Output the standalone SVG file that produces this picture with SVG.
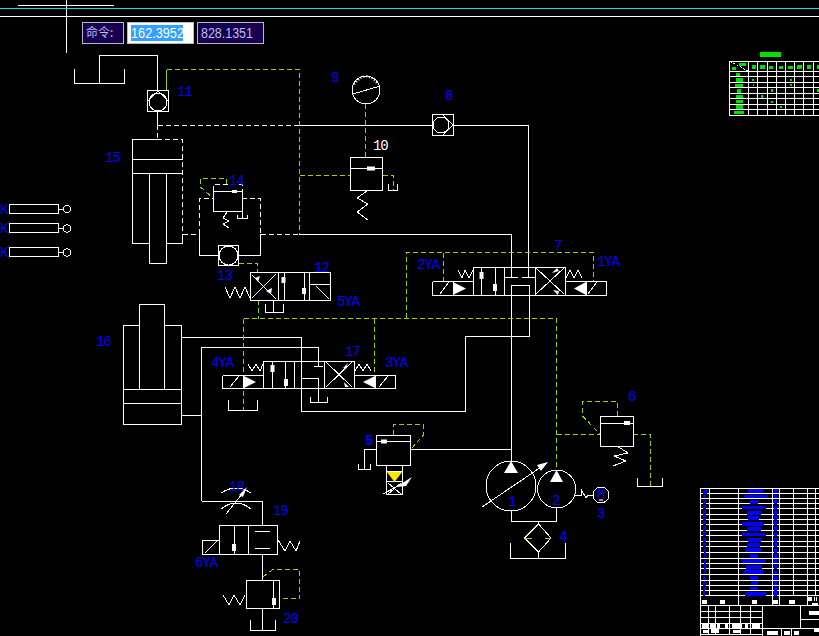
<svg xmlns="http://www.w3.org/2000/svg" width="819" height="636" viewBox="0 0 819 636">
<style>
.w{fill:none;stroke:#fff;stroke-width:1;shape-rendering:crispEdges}
.d{fill:none;stroke:#fff;stroke-width:1;stroke-dasharray:5 3;shape-rendering:crispEdges}
.g{fill:none;stroke:#9fd000;stroke-width:1;stroke-dasharray:5 3;shape-rendering:crispEdges}
.gs{fill:none;stroke:#9fd000;stroke-width:1;shape-rendering:crispEdges}
.f{fill:#fff;stroke:none}
.l{fill:#0000ff;font-family:"Liberation Mono",monospace;font-size:14px;letter-spacing:-1.200px}
.t{fill:#bcbcf0;font-family:"Liberation Sans",sans-serif;font-size:14px}
.tb{stroke:#fff;stroke-width:3;fill:none}
.bl{fill:#0000ff}
.gr{fill:#00e000}
.wf{fill:#fff}
</style>
<rect width="819" height="636" fill="#000"/>
<g id="screen">
<path class="w" d="M18 5.500H114M66.500 0V53M0 16.500H819"/>
<path d="M0 8.500H819" stroke="#00e8e8" stroke-width="1" fill="none"/>
<rect x="82.500" y="22.500" width="41" height="21" fill="#16004f" stroke="#b8b8c8"/>
<text x="86" y="37" class="t" style="font-family:'Noto Sans CJK SC',sans-serif;font-size:12px">命令:</text>
<rect x="127.500" y="22.500" width="66" height="21" fill="#fff" stroke="#b8b8c8"/>
<rect x="131" y="25" width="52" height="16" fill="#33a0ff"/>
<text x="131" y="37.500" fill="#fff" textLength="53" lengthAdjust="spacingAndGlyphs" style="font-family:'Liberation Sans',sans-serif;font-size:14px">162.3952</text>
<rect x="197.500" y="22.500" width="66" height="21" fill="#16004f" stroke="#b8b8c8"/>
<text x="201" y="37.500" class="t" textLength="52" lengthAdjust="spacingAndGlyphs">828.1351</text>
</g>
<g id="connectors">
<path class="w" d="M99.500 83V55.500H157.500V90M157.500 111V125M299 234.500H511.500V277M505 277.500H518M299 125.500H432.500M453.500 125.500H528.500V277M522 277.500H535"/>
<path class="w" d="M511.500 295V285.500H529.500V336.500H465.500V411.500H301.500V337.500H182M511.500 295V462M201.500 415.500H182M201.500 501V347.500H318.500V367M314 366.500H323M301.500 378.500H318.500V402M201.500 501.500H262.500V525.500M262.500 554V580M411 449.500H511.500M364.500 469V449.500H376M511.500 511V521.500H556.500V508M575 495.500H582M538.500 521.500V524M538.500 552V558M273.500 300V312"/>
<path class="d" d="M157.500 125V139M157.500 125.500H299M183 234.500H199M261 234.500H299"/>
<path class="w" d="M199.500 234V255.500H218M238 255.500H260.500V234"/>
<path class="d" d="M199.500 234V198.500H213M242 198.500H260.500V234"/>
<path class="gs" d="M166.500 90V70"/>
<path class="g" d="M166.500 69.500H299.500V234M239 263.500H257.500V272M365.500 104V157M300 175.500H350M383 175.500H393.500V190"/>
<path class="g" d="M406.500 318V252.500H593.500V281M443.500 252.500V281M243.500 318.500H556.500V470M243.500 318.500V410M258.500 300V318.500M374.500 318.500V375M556.500 434.500H600M633 434.500H650.500V486M617.500 416V401.500H582.500V416L600 434M393.500 435V424.500H423.500V435L411 449M226.500 184V178.500H200.500V187L206 192 213 198M263 577 273 569.500H299.500V598.500H280"/>
</g>
<g id="n11"><rect class="w" x="147.500" y="90.500" width="21" height="21"/><circle class="w" cx="158" cy="102" r="9"/><path class="w" d="M148 101 158 91 168 101"/></g>
<g id="tank-top"><path class="w" d="M74.500 69V83.500H124.500V69"/></g>
<g id="n15">
<path class="w" d="M157 139.500H132.500V243.500H149.500M132.500 159.500H182.500M132.500 173.500H182.500M149.500 173.500V263.500H166.500V173.500M166.500 243.500H182.500V234"/>
<path class="d" d="M157 139.500H182.500V234"/>
</g>
<g id="bars">
<path class="w" d="M9.500 204.500H58.500V213.500H9.500ZM9.500 223.500H58.500V232.500H9.500ZM9.500 247.500H58.500V256.500H9.500ZM58.500 209.500H63M58.500 228.500H63M58.500 252.500H63"/>
<circle class="w" cx="67" cy="209" r="3.700"/><circle class="w" cx="67" cy="228.500" r="3.700"/><circle class="w" cx="67" cy="252.500" r="3.700"/>
</g>
<g id="n14">
<path class="w" d="M213.500 191.500V211.500H242.500V191.500ZM242.500 211V218M237.500 215V218.500H247.500V215M227 212 223 218 229 221 223 224 229 228"/>
<path class="d" d="M213.500 191V184.500H242.500V191"/>
<rect class="f" x="232" y="190" width="5" height="3"/><path class="w" d="M236 191.500H241"/>
</g>
<g id="n13"><rect class="w" x="218.500" y="245.500" width="20" height="20"/><circle class="w" cx="228.500" cy="255.500" r="9.500"/></g>
<g id="n12">
<path class="w" d="M250.500 272.500H330.500V300.500H250.500ZM278.500 272.500V300.500M284.500 272.500V300.500M304.500 272.500V300.500M309.500 272.500V300.500M309.500 284.500H330.500M316 286 329 299M252 298 276 274M252 275 276 299M225 287 230 298 235 287 240 298 245 287 250 298"/>
<path class="w" d="M265.500 304V312.500H283.500V304"/>
<rect class="f" x="302" y="288" width="4" height="6"/>
<rect class="f" x="281.500" y="277" width="4" height="6"/>
<path class="f" d="M255 278 260 276 258 282ZM271 294 272 288 266 291Z"/>
</g>
<g id="n9"><circle class="w" cx="366" cy="90" r="14"/><path class="w" d="M353 94 380 86"/><path d="M354 84 360 78 366 76 372 78 378 84" fill="none" stroke="#fff" stroke-width="2.500" stroke-dasharray="1 2"/></g>
<g id="n8"><rect class="w" x="432.500" y="114.500" width="21" height="21"/><circle class="w" cx="441" cy="125" r="8"/><path class="w" d="M443 115 453 125 443 135"/></g>
<g id="n10">
<rect class="w" x="350.500" y="157.500" width="32" height="33"/>
<path class="w" d="M350.500 168.500H382.500M388.500 184V190.500H397.500V184M367 191 357 198 368 204 357 212 368 220"/>
<rect class="f" x="367" y="166.500" width="8" height="4"/><path class="w" d="M374 168H379"/>
</g>
<g id="n7">
<path class="w" d="M432.500 281.500H473.500M432.500 281.500V295.500H606.500V281.500H565.500M473.500 267.500H565.500V295.500H473.500ZM481.500 267.500V295.500M495.500 267.500V295.500M504.500 267.500V295.500M535.500 267.500V295.500M440 294 449 282M588 294 597 282M536 294 564 268M536 268 564 294M458 270 462 278 465 270 469 278 473 270M566 278 570 270 574 278 578 270 582 278M453.500 281.500V295.500M586.500 281.500V295.500"/>
<path class="f" d="M453 282 466 288.500 453 295ZM586 282 574 288.500 586 295ZM552 273 557 268 559 271ZM553 290 558 295 559 291Z"/>
<rect class="f" x="479.500" y="272" width="4" height="7"/><rect class="f" x="493" y="284" width="4" height="7"/>
</g>
<g id="n16">
<path class="w" d="M123.500 325.500H139.500V304.500H164.500V325.500H181.500V424.500H123.500ZM139.500 325.500V389M164.500 325.500V389M123.500 389.500H181.500M123.500 403.500H181.500"/>
</g>
<g id="n17">
<path class="w" d="M222.500 375.500H263.500M222.500 375.500V388.500H395.500V375.500H354.500M263.500 361.500H354.500V388.500H263.500ZM272.500 361.500V388.500M285.500 361.500V388.500M294.500 361.500V388.500M324.500 361.500V388.500M230 387 239 376M379 387 388 376M326 387 352 362M326 362 352 387M248 364 252 371 256 364 260 371 263 364M355 371 359 364 363 371 367 364 371 371M243.500 375.500V388.500M375.500 375.500V388.500"/>
<path class="f" d="M244 376 256 382 244 388ZM375 376 363 382 375 388ZM343 368 348 363 346 369ZM344 382 349 387 345 387Z"/>
<rect class="f" x="270.500" y="365" width="4" height="7"/><rect class="f" x="284" y="379" width="4" height="7"/>
<path class="w" d="M228.500 400V410.500H257.500V400M310.500 397V402.500H327.500V397"/>
</g>
<g id="n5">
<rect class="w" x="376.500" y="435.500" width="34" height="30"/>
<path class="w" d="M376.500 441.500H410.500M358.500 464V469.500H370.500V464M386.500 465.500V494.500H402.500V465.500M386.500 481.500H402.500M388 483 401 494M388 494 401 483M383 494 396 487"/>
<path d="M386.500 471.500H402.500L394.500 482Z" fill="#ffe800"/>
<path class="w" d="M386.500 471.500H402.500"/>
<path class="f" d="M396 487 412 477 406 486Z"/>
<rect class="f" x="381" y="439.500" width="6" height="4"/>
</g>
<g id="n1"><circle class="w" cx="511" cy="486" r="25"/><path class="w" d="M482 507 547 463"/><path class="f" d="M511 461 518 473H504ZM548 462 537 465 541 471Z"/></g>
<g id="n2"><circle class="w" cx="556.700" cy="489" r="19"/><path class="f" d="M556.500 470 563 482H550Z"/></g>
<g id="n3"><circle class="w" cx="601" cy="495" r="8"/><path class="w" d="M582 495 581 489 586 498 588 495H593"/><rect x="599" y="499" width="4" height="2" fill="#e060c0"/></g>
<g id="n4"><path class="w" d="M538.500 524 551 538 538.500 552 524.500 538ZM510.500 543V558.500H565.500V543"/><path class="gs" d="M525 538.500H532M545 538.500H551"/></g>
<g id="n6">
<rect class="w" x="600.500" y="416.500" width="33" height="30"/>
<path class="w" d="M600.500 423.500H633.500M617 446 628 453 614 456 626 461 613 466M637.500 478V486.500H662.500V478"/>
<rect class="f" x="624" y="421" width="6" height="4"/>
</g>
<g id="n18"><path class="w" d="M221 493Q236 483 251 493M221 509Q236 497 251 509M226 514 246 489"/><path class="f" d="M247 487 239 495 243 497Z"/></g>
<g id="n19">
<rect class="w" x="219.500" y="525.500" width="58" height="29"/>
<path class="w" d="M234.500 525.500V554.500M248.500 525.500V554.500M255 531.500H270M255 548.500H270M202.500 540.500H219.500V554.500H202.500ZM205 553 217 541M278 540 285 551 290 541 296 551 300 541"/>
<rect class="f" x="232" y="544" width="4" height="7"/>
</g>
<g id="n20">
<rect class="w" x="246.500" y="580.500" width="33" height="28"/>
<path class="w" d="M273.500 581V608M262.500 608.500V630M250.500 620V630.500H275.500V620M223 595 229 605 234 595 240 605 245 595"/>
<rect class="f" x="272" y="598" width="4" height="7"/>
</g>
<g id="labels">
<text class="l" x="177" y="96">11</text><text class="l" x="105" y="162">15</text><text class="l" x="229" y="185">14</text><text class="l" x="217" y="280">13</text><text class="l" x="314" y="272">12</text><text class="l" x="337" y="306">5YA</text><text class="l" x="331" y="82">9</text><text class="l" x="445" y="100">8</text><text x="373" y="150" style="fill:#fff;font-family:'Liberation Mono',monospace;font-size:14px;letter-spacing:-1.200px">10</text><text class="l" x="554" y="250">7</text><text class="l" x="417" y="269">2YA</text><text class="l" x="597" y="266">1YA</text><text class="l" x="96" y="346">16</text><text class="l" x="211" y="367">4YA</text><text class="l" x="345" y="356">17</text><text class="l" x="385" y="367">3YA</text><text class="l" x="365" y="445" font-weight="bold">5</text><text class="l" x="229" y="491">18</text><text class="l" x="273" y="515">19</text><text class="l" x="195" y="567">6YA</text><text class="l" x="283" y="623">20</text><text class="l" x="628" y="401">6</text><text class="l" x="508" y="506">1</text><text class="l" x="552" y="505">2</text><text class="l" x="597" y="498">M</text><text class="l" x="597" y="518">3</text><text class="l" x="559" y="541">4</text><text class="l" x="0" y="214">K</text><text class="l" x="0" y="233">K</text><text class="l" x="0" y="257">K</text>
</g>
<g id="parts-list" transform="translate(720 45) scale(.3333)" shape-rendering="crispEdges">
<path class="tb" d="M28 49H297M28 79H297M28 95H297M28 112H297M28 129H297M28 146H297M28 162H297M28 179H297M28 195H297M28 212H297M28 49V212M85 49V212M113 49V212M142 49V212M169 49V212M196 49V212M224 49V212M252 49V212M280 49V212"/>
<path class="tb" d="M30 50 85 78" stroke-dasharray="6 5"/>
<g class="gr">
<rect x="120" y="21" width="63" height="14"/><rect x="57" y="54" width="21" height="9"/><rect x="36" y="66" width="12" height="9"/><rect x="96" y="60" width="12" height="12"/><rect x="120" y="60" width="15" height="12"/><rect x="147" y="63" width="12" height="9"/><rect x="177" y="63" width="12" height="9"/><rect x="204" y="63" width="15" height="9"/><rect x="231" y="60" width="15" height="12"/><rect x="261" y="60" width="12" height="12"/><rect x="291" y="60" width="6" height="12"/><rect x="48" y="84" width="12" height="9"/><rect x="48" y="99" width="21" height="12"/><rect x="45" y="116" width="24" height="9"/><rect x="50" y="132" width="12" height="13"/><rect x="48" y="150" width="21" height="10"/><rect x="48" y="165" width="21" height="9"/><rect x="48" y="181" width="21" height="11"/><rect x="42" y="198" width="30" height="9"/><rect x="96" y="102" width="6" height="5"/><rect x="99" y="117" width="3" height="6"/><rect x="153" y="132" width="6" height="9"/><rect x="123" y="150" width="6" height="9"/><rect x="153" y="168" width="6" height="6"/><rect x="180" y="183" width="6" height="6"/><rect x="210" y="102" width="6" height="5"/><rect x="210" y="117" width="6" height="6"/><rect x="291" y="132" width="6" height="9"/>
</g>
</g>
<g id="title-block" transform="translate(695 480) scale(.3333)" shape-rendering="crispEdges">
<path class="tb" d="M18 25H372M18 40H372M18 55H372M18 71H372M18 87H372M18 103H372M18 119H372M18 135H372M18 151H372M18 167H372M18 186H372M18 201H372M18 217H372M18 235H372M18 251H372M18 267H372M18 283H372M18 301H372M18 317H372M18 333H372M18 348H372M18 378H372M18 25V468M43 25V348M130 25V378M232 25V378M253 25V378M295 25V348M337 25V378M361 25V348"/>
<path class="tb" d="M18 396H204M18 413H204M18 430H204M18 445H372M18 463H204M42 378V463M63 378V463M103 378V463M138 378V463M166 378V463M204 378V468M318 378V445M318 420H372M261 445V468M291 445V468"/>
<g class="bl">
<rect x="159" y="27" width="45" height="12"/><rect x="147" y="44" width="72" height="10"/><rect x="165" y="60" width="25" height="11"/><rect x="141" y="77" width="72" height="10"/><rect x="155" y="94" width="43" height="11"/><rect x="159" y="108" width="33" height="11"/><rect x="141" y="125" width="67" height="12"/><rect x="155" y="141" width="43" height="11"/><rect x="141" y="159" width="72" height="9"/><rect x="159" y="174" width="39" height="12"/><rect x="155" y="189" width="41" height="12"/><rect x="150" y="204" width="48" height="12"/><rect x="165" y="222" width="25" height="11"/><rect x="141" y="238" width="72" height="10"/><rect x="153" y="255" width="49" height="11"/><rect x="147" y="270" width="57" height="12"/><rect x="165" y="288" width="25" height="11"/><rect x="168" y="304" width="22" height="11"/><rect x="165" y="321" width="25" height="9"/><rect x="150" y="336" width="63" height="11"/>
<rect x="24" y="29" width="12" height="12"/><rect x="24" y="45" width="10" height="9"/><rect x="24" y="60" width="10" height="11"/><rect x="24" y="76" width="10" height="11"/><rect x="24" y="94" width="9" height="11"/><rect x="24" y="108" width="9" height="11"/><rect x="24" y="124" width="9" height="11"/><rect x="24" y="141" width="9" height="11"/><rect x="24" y="156" width="9" height="11"/><rect x="24" y="174" width="9" height="11"/><rect x="24" y="189" width="9" height="11"/><rect x="27" y="207" width="6" height="27"/><rect x="27" y="240" width="6" height="41"/><rect x="24" y="288" width="9" height="11"/><rect x="24" y="304" width="9" height="13"/><rect x="24" y="321" width="6" height="26"/>
<rect x="237" y="27" width="9" height="12"/><rect x="237" y="44" width="9" height="9"/><rect x="237" y="60" width="9" height="11"/><rect x="237" y="78" width="9" height="11"/><rect x="237" y="94" width="9" height="11"/><rect x="237" y="108" width="9" height="12"/><rect x="237" y="124" width="9" height="11"/><rect x="237" y="141" width="9" height="11"/><rect x="237" y="158" width="9" height="11"/><rect x="237" y="174" width="9" height="11"/><rect x="237" y="189" width="9" height="12"/><rect x="237" y="207" width="9" height="11"/><rect x="237" y="222" width="9" height="11"/><rect x="237" y="238" width="9" height="11"/><rect x="237" y="255" width="9" height="11"/><rect x="237" y="272" width="9" height="11"/><rect x="237" y="288" width="9" height="11"/><rect x="237" y="304" width="9" height="11"/><rect x="237" y="321" width="9" height="26"/>
</g>
<g class="wf">
<rect x="20" y="360" width="16" height="12"/><rect x="75" y="360" width="15" height="12"/><rect x="171" y="360" width="15" height="12"/><rect x="233" y="360" width="16" height="12"/><rect x="282" y="360" width="18" height="12"/><rect x="338" y="350" width="12" height="14"/><rect x="357" y="350" width="3" height="12"/><rect x="363" y="350" width="3" height="12"/><rect x="351" y="369" width="18" height="9"/>
<rect x="342" y="392" width="30" height="13"/><rect x="357" y="444" width="15" height="12"/>
<rect x="21" y="431" width="18" height="13"/><rect x="45" y="431" width="15" height="13"/><rect x="66" y="431" width="9" height="13"/><rect x="90" y="431" width="10" height="13"/><rect x="110" y="431" width="32" height="13"/><rect x="150" y="431" width="10" height="13"/><rect x="170" y="431" width="26" height="13"/>
<rect x="24" y="450" width="15" height="9"/><rect x="48" y="448" width="24" height="11"/><rect x="114" y="450" width="21" height="9"/><rect x="216" y="453" width="33" height="12"/><rect x="267" y="453" width="18" height="12"/><rect x="297" y="453" width="15" height="12"/>
</g>
</g>
</svg>
